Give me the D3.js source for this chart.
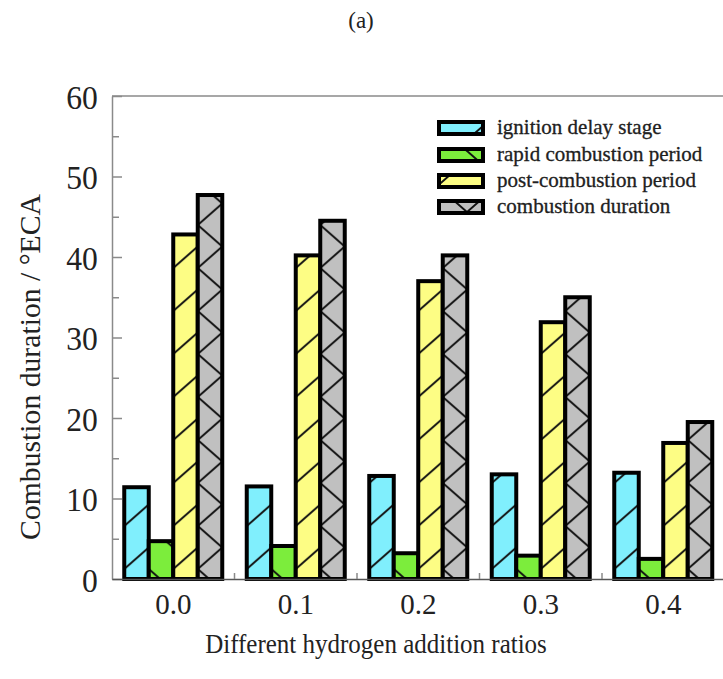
<!DOCTYPE html>
<html>
<head>
<meta charset="utf-8">
<script src="https://cdn.jsdelivr.net/npm/d3@7"></script>
<style>
  html, body { margin: 0; padding: 0; background: #fff; }
  svg { display: block; }
  text { font-family: "Liberation Serif", "Times New Roman", serif; fill: #222; }
</style>
</head>
<body>
<svg id="chart" width="723" height="679"></svg>
<script>
// Hydrogen addition ratio categories
const ratios = ["0.0", "0.1", "0.2", "0.3", "0.4"];

// Combustion phase durations (°ECA)
const ignitionDelay      = [11.4, 11.5, 12.8, 13.0, 13.2];
const rapidCombustion    = [4.7, 4.1, 3.2, 2.9, 2.5];
const postCombustion     = [42.8, 40.2, 37.0, 31.9, 16.9];
const combustionDuration = [47.7, 44.5, 40.2, 35.0, 19.5];

const seriesNames = [
  "ignition delay stage",
  "rapid combustion period",
  "post-combustion period",
  "combustion duration"
];
const seriesValues = [ignitionDelay, rapidCombustion, postCombustion, combustionDuration];
const seriesColors = ["#80effd", "#7ced3c", "#fdfd84", "#c0c0c0"];
const seriesHatch  = ["fwd", "back", "fwd", "cross"];

const yMajorTicks = [0, 10, 20, 30, 40, 50, 60];
const yMinorTicks = [5, 15, 25, 35, 45, 55];

const serif = "Liberation Serif, Times New Roman, serif";
const svg = d3.select("#chart");
const plotLeft = 112, plotRight = 724.5, plotTop = 96, plotBottom = 579;

const x = d3.scaleBand().domain(ratios).range([plotLeft, plotRight]).paddingInner(0).paddingOuter(0);
const xs = d3.scaleBand().domain(seriesNames).range([0, x.bandwidth()]).paddingInner(0).paddingOuter(0.5);
const y = d3.scaleLinear().domain([0, 60]).range([plotBottom, plotTop]);

// hatch patterns: tile is two bars wide so that each line crosses exactly one bar,
// anchored at each bar's left edge so crosshatch lines meet on the bar edges
const defs = svg.append("defs");
const TW = 2 * xs.bandwidth(), TH = 43;
function seg(x1, y1, x2, y2) { return `M${x1},${y1} L${x2},${y2}`; }
function hatchPath(kind) {
  const fwd = [seg(0, TH, TW, 0), seg(-TW, TH, 0, 0), seg(TW, TH, 2 * TW, 0),
               seg(0, 2 * TH, TW, TH), seg(0, 0, TW, -TH)].join(" ");
  const back = [seg(0, 0, TW, TH), seg(-TW, 0, 0, TH), seg(TW, 0, 2 * TW, TH),
                seg(0, -TH, TW, 0), seg(0, TH, TW, 2 * TH)].join(" ");
  if (kind === "fwd") return fwd;
  if (kind === "back") return back;
  return fwd + " " + back;
}
function makePattern(id, si, x0, y0) {
  const pat = defs.append("pattern")
    .attr("id", id)
    .attr("patternUnits", "userSpaceOnUse")
    .attr("width", TW).attr("height", TH)
    .attr("x", x0).attr("y", y0);
  pat.append("rect").attr("width", TW).attr("height", TH).attr("fill", seriesColors[si]);
  pat.append("path").attr("d", hatchPath(seriesHatch[si]))
    .attr("stroke", "#111").attr("stroke-width", 2).attr("fill", "none");
  return `url(#${id})`;
}

// frame
const axisColor = "#8a8a8a";
svg.append("line").attr("x1", plotLeft).attr("x2", 723).attr("y1", plotTop).attr("y2", plotTop)
  .attr("stroke", axisColor).attr("stroke-width", 1.5);

// bars
const barData = [];
ratios.forEach((r, gi) => {
  seriesNames.forEach((s, si) => {
    barData.push({ r, s, si, gi, v: seriesValues[si][gi] });
  });
});

svg.append("g").selectAll("rect").data(barData).join("rect")
  .attr("x", d => x(d.r) + xs(d.s))
  .attr("width", xs.bandwidth())
  .attr("y", d => y(d.v))
  .attr("height", d => y(0) - y(d.v))
  .attr("fill", d => makePattern(`hatch-${d.gi}-${d.si}`, d.si, x(d.r) + xs(d.s), y(0) - 10))
  .attr("stroke", "#000")
  .attr("stroke-width", 4);

// y axis
const yAxis = svg.append("g").attr("transform", `translate(${plotLeft},0)`)
  .call(d3.axisLeft(y).tickValues(yMajorTicks).tickSizeInner(-10).tickSizeOuter(0).tickPadding(14));
yAxis.select(".domain").attr("stroke", axisColor).attr("stroke-width", 1.5);
yAxis.selectAll(".tick line").attr("stroke", axisColor).attr("stroke-width", 1.5);
yAxis.selectAll(".tick text").attr("font-size", 31).attr("fill", "#222")
  .attr("font-family", serif).attr("dy", "0.35em")
  .attr("transform", "scale(1.02,1.12)");

const yMinor = svg.append("g").attr("transform", `translate(${plotLeft},0)`)
  .call(d3.axisLeft(y).tickValues(yMinorTicks).tickSizeInner(-7).tickSizeOuter(0).tickFormat(""));
yMinor.select(".domain").remove();
yMinor.selectAll(".tick line").attr("stroke", axisColor).attr("stroke-width", 1.5);

// x axis
const xAxis = svg.append("g").attr("transform", `translate(0,${plotBottom})`)
  .call(d3.axisBottom(x).tickSize(0).tickPadding(14));
xAxis.select(".domain").attr("stroke", "#555").attr("stroke-width", 1.5);
xAxis.selectAll(".tick text").attr("font-size", 29).attr("fill", "#222")
  .attr("font-family", serif);

// minor ticks between groups
svg.append("g").selectAll("line").data(ratios.slice(1)).join("line")
  .attr("x1", d => x(d)).attr("x2", d => x(d))
  .attr("y1", plotBottom).attr("y2", plotBottom - 6)
  .attr("stroke", axisColor).attr("stroke-width", 1.5);

// axis titles
svg.append("text")
  .attr("transform", `translate(376,653) scale(1,1.12)`)
  .attr("text-anchor", "middle").attr("font-size", 25)
  .attr("font-family", serif)
  .text("Different hydrogen addition ratios");

svg.append("text")
  .attr("transform", `translate(40,367) rotate(-90)`)
  .attr("text-anchor", "middle").attr("font-size", 29.7)
  .attr("font-family", serif)
  .text("Combustion duration / °ECA");

svg.append("text")
  .attr("x", 361).attr("y", 28)
  .attr("text-anchor", "middle").attr("font-size", 23)
  .attr("font-family", serif)
  .text("(a)");

// legend
const legendRows = [128, 155, 181, 207];
const leg = svg.append("g").selectAll("g").data(seriesNames).join("g")
  .attr("transform", (d, i) => `translate(439,${legendRows[i]})`);
leg.append("rect")
  .attr("x", 0).attr("y", -6).attr("width", 44).attr("height", 12)
  .attr("fill", (d, i) => makePattern(`hatch-legend-${i}`, i, 439 + 30, legendRows[i] - 30))
  .attr("stroke", "#000").attr("stroke-width", 4);
leg.append("text")
  .attr("x", 58).attr("y", 6)
  .attr("font-size", 21)
  .attr("font-family", serif)
  .attr("fill", "#1a1a1a")
  .attr("stroke", "#1a1a1a").attr("stroke-width", 0.3)
  .text(d => d);
</script>
</body>
</html>
